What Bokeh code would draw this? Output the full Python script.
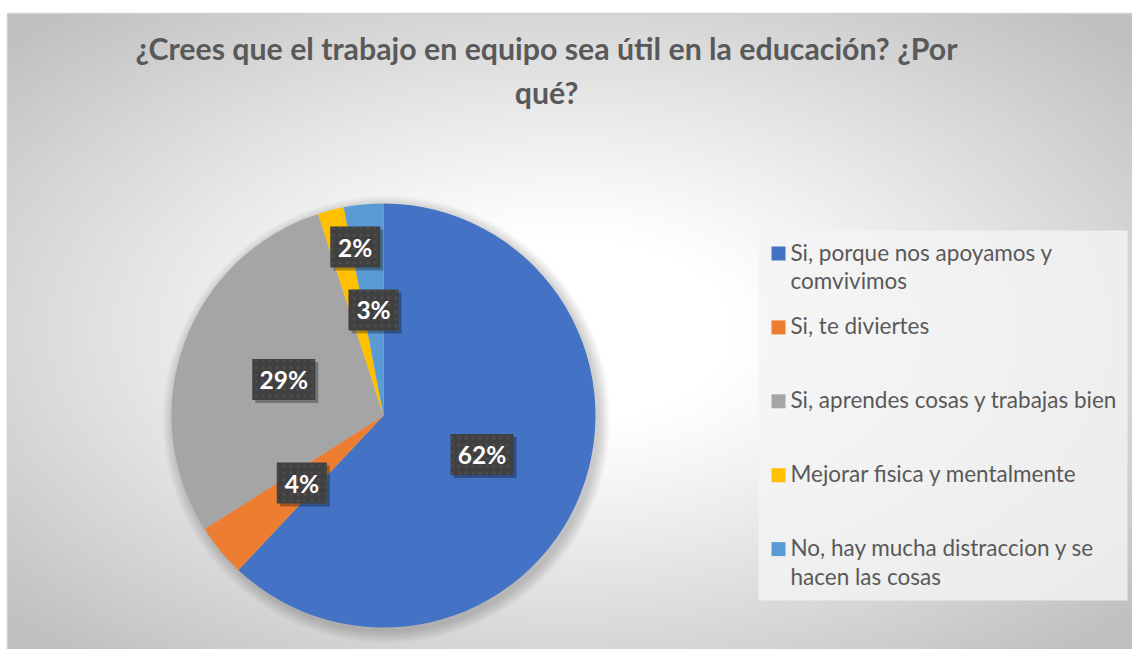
import numpy as np
from bokeh.plotting import figure
from bokeh.models import Range1d
from bokeh.core.properties import value
from bokeh.embed import file_html
from bokeh.resources import INLINE

# ---------------- data ----------------
categories = [
    "Si, porque nos apoyamos y\ncomvivimos",
    "Si, te diviertes",
    "Si, aprendes cosas y trabajas bien",
    "Mejorar fisica y mentalmente",
    "No, hay mucha distraccion y se\nhacen las cosas",
]
percentages = [62, 4, 29, 2, 3]
colors = ["#4472C4", "#ED7D31", "#A5A5A5", "#FFC000", "#5B9BD5"]
title_lines = ["¿Crees que el trabajo en equipo sea útil en la educación? ¿Por", "qué?"]

# ---------------- layout ----------------
W, H = 1132, 649


def sy(y):  # screen y -> data y
    return H - y


p = figure(width=W, height=H, x_range=Range1d(0, W), y_range=Range1d(0, H),
           output_backend="svg", toolbar_location=None, min_border=0)
p.axis.visible = False
p.grid.visible = False
p.outline_line_color = None
p.background_fill_color = "white"
p.border_fill_color = "white"

# radial gradient background of chart area
x0, x1, ytop, ybot = 7, 1132, 13, 649
nx, ny = 563, 318
gx = np.linspace(x0, x1, nx)
gy = np.linspace(ybot, ytop, ny)  # row 0 = bottom
XX, YY = np.meshgrid(gx, gy)
cx_g, cy_g = 566, 330
d = np.sqrt(((XX - cx_g) / (566 * 1.35)) ** 2 + ((YY - cy_g) / (318 * 1.35)) ** 2)
t = np.clip((d - 0.22) / 0.78, 0, 1)
g = (255 - (255 - 192) * t ** 1.1).astype(np.uint32)
img = (255 << 24) | (g << 16) | (g << 8) | g
p.image_rgba(image=[img.astype(np.uint32)], x=x0, y=sy(ybot), dw=x1 - x0, dh=ybot - ytop)
p.quad(left=x0, right=x1 + 2, top=sy(ytop), bottom=sy(ybot) - 2, fill_alpha=0,
       line_color="#D0D0D0", line_width=1.5)

# ---------------- title ----------------
TITLE_X = 546
for i, line in enumerate(title_lines):
    p.text(x=[TITLE_X], y=[sy(47 + 44 * i)], text=[line], text_align="center",
           text_baseline="middle", text_font=value("Lato"), text_font_style="bold",
           text_font_size="30.3px", text_color="#595959")

# ---------------- pie ----------------
CX, CY, R = 383, sy(415), 212
vals = np.array(percentages, dtype=float)
frac = vals / vals.sum()
cum_end = np.cumsum(frac)
cum_start = cum_end - frac
start = np.pi / 2 - 2 * np.pi * cum_start
end = np.pi / 2 - 2 * np.pi * cum_end

# soft shadow
for k in range(8):
    p.circle(x=CX + 3, y=CY - 4, radius=R + 1 + k * 1.5, fill_color="black",
             fill_alpha=0.025, line_color=None)

p.wedge(x=CX, y=CY, radius=R, start_angle=start, end_angle=end, direction="clock",
        fill_color=colors, line_color=None)

# ---------------- data labels ----------------
mid = 2 * np.pi * (cum_start + frac / 2)
rf = np.array([0.5, 0.5, 0.5, 0.82, 0.5])
nudge_x = np.array([0, 0, 0, 15, 0])
lx = CX + rf * R * np.sin(mid) + nudge_x
ly = CY + rf * R * np.cos(mid)
labels = [f"{v:.0f}%" for v in percentages]
bw = np.array([24 + 13 * len(s) for s in labels])
p.rect(x=lx + 3, y=ly - 3, width=bw, height=41, fill_color="black", fill_alpha=0.3,
       line_color=None)
p.rect(x=lx, y=ly, width=bw, height=41, fill_color="#404040", line_color=None,
       hatch_pattern="dot", hatch_color="#4C4C4C", hatch_scale=7, hatch_weight=1.5)
p.text(x=lx, y=ly, text=labels, text_align="center", text_baseline="middle",
       text_font=value("Lato"), text_font_style="bold", text_font_size="24.5px",
       text_color="white")

# ---------------- legend ----------------
p.quad(left=758, right=1127, top=sy(230), bottom=sy(600), fill_color="#F4F4F4",
       fill_alpha=0.8, line_color=None)
n = len(categories)
leg_y = np.array([253 + 73.9 * i for i in range(n)])
p.rect(x=[778] * n, y=sy(leg_y), width=14, height=14, fill_color=colors, line_color=None)
p.text(x=[790] * n, y=sy(leg_y - 15), text=categories, text_align="left",
       text_baseline="top", text_font=value("Lato"), text_font_size="22.5px",
       text_color="#595959", text_line_height=1.07)

open("out.html", "w").write(file_html(p, INLINE))
